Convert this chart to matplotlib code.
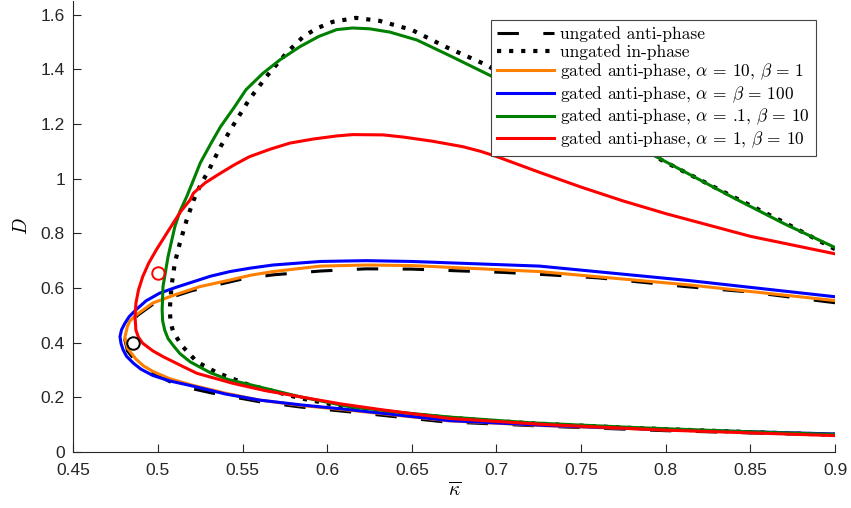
import numpy as np
import matplotlib
matplotlib.use('Agg')
import matplotlib.pyplot as plt

plt.rcParams['mathtext.fontset'] = 'cm'

# curves traced from the upper end at kappa=0.9, round the tip, back to 0.9
anti_x = [0.9, 0.85, 0.812, 0.76, 0.731, 0.704, 0.676, 0.65, 0.623, 0.596, 0.568, 0.55, 0.5347, 0.52, 0.51, 0.497,
          0.488, 0.482, 0.4805, 0.482, 0.487, 0.497, 0.507, 0.52, 0.5325, 0.56, 0.585, 0.613, 0.668, 0.73, 0.8, 0.9]
anti_y = [0.546, 0.585, 0.605, 0.637, 0.648, 0.657, 0.663, 0.669, 0.670, 0.662, 0.648, 0.633, 0.611, 0.59, 0.57, 0.54,
          0.50, 0.455, 0.41, 0.37, 0.33, 0.29, 0.257, 0.232, 0.215, 0.184, 0.164, 0.147, 0.111, 0.094, 0.078, 0.062]

inph_x = [0.9, 0.87, 0.84, 0.80, 0.76, 0.72, 0.694, 0.67, 0.65, 0.631, 0.617, 0.603, 0.594, 0.586, 0.576, 0.565,
          0.554, 0.545, 0.537, 0.530, 0.525, 0.521, 0.517, 0.513, 0.510, 0.508, 0.507, 0.5075, 0.509, 0.514,
          0.523, 0.535, 0.554, 0.584, 0.613, 0.643, 0.672, 0.72, 0.78, 0.84, 0.9]
inph_y = [0.742, 0.84, 0.933, 1.06, 1.19, 1.32, 1.416, 1.482, 1.544, 1.577, 1.588, 1.573, 1.55, 1.52, 1.46, 1.38,
          1.29, 1.20, 1.117, 1.03, 0.975, 0.92, 0.849, 0.765, 0.692, 0.605, 0.52, 0.475, 0.44, 0.39,
          0.33, 0.29, 0.245, 0.197, 0.162, 0.142, 0.125, 0.105, 0.088, 0.075, 0.063]

orange_x = [0.9, 0.814, 0.7255, 0.65, 0.623, 0.596, 0.568, 0.555, 0.5425, 0.5248, 0.51, 0.497, 0.488, 0.4835,
            0.482, 0.4805, 0.4812, 0.482, 0.4845, 0.487, 0.4915, 0.497, 0.507, 0.52, 0.54, 0.56, 0.585, 0.613,
            0.672, 0.73, 0.8, 0.9]
orange_y = [0.554, 0.611, 0.660, 0.682, 0.684, 0.680, 0.660, 0.647, 0.629, 0.605, 0.575, 0.545, 0.505, 0.48,
            0.46, 0.42, 0.40, 0.38, 0.36, 0.34, 0.315, 0.295, 0.268, 0.245, 0.215, 0.19, 0.17, 0.153,
            0.114, 0.096, 0.081, 0.065]

blue_x = [0.9, 0.814, 0.7255, 0.65, 0.623, 0.596, 0.568, 0.555, 0.5425, 0.531, 0.521, 0.511, 0.501, 0.493,
          0.487, 0.483, 0.4805, 0.4785, 0.4776, 0.4782, 0.4795, 0.4815, 0.4855, 0.490, 0.497, 0.507, 0.52,
          0.54, 0.56, 0.585, 0.613, 0.672, 0.73, 0.8, 0.9]
blue_y = [0.568, 0.627, 0.680, 0.697, 0.700, 0.697, 0.684, 0.673, 0.66, 0.643, 0.623, 0.603, 0.581, 0.553,
          0.52, 0.495, 0.471, 0.447, 0.422, 0.397, 0.373, 0.35, 0.325, 0.303, 0.28, 0.26, 0.242,
          0.212, 0.19, 0.172, 0.155, 0.115, 0.097, 0.082, 0.066]

green_x = [0.9, 0.87, 0.84, 0.796, 0.76, 0.73, 0.698, 0.674, 0.653, 0.637, 0.625, 0.615, 0.6056, 0.595, 0.584,
           0.572, 0.562, 0.552, 0.545, 0.537, 0.531, 0.525, 0.521, 0.517, 0.513, 0.510, 0.506, 0.503, 0.5025,
           0.5028, 0.504, 0.506, 0.509, 0.513, 0.519, 0.531, 0.5415, 0.554, 0.584, 0.613, 0.643, 0.672, 0.72,
           0.78, 0.84, 0.9]
green_y = [0.748, 0.835, 0.93, 1.075, 1.19, 1.28, 1.372, 1.445, 1.507, 1.536, 1.548, 1.551, 1.545, 1.52, 1.483,
           1.434, 1.385, 1.325, 1.26, 1.19, 1.125, 1.057, 0.995, 0.934, 0.88, 0.824, 0.715, 0.605, 0.52,
           0.48, 0.446, 0.415, 0.39, 0.36, 0.33, 0.29, 0.265, 0.247, 0.202, 0.166, 0.145, 0.128, 0.107,
           0.09, 0.076, 0.064]

red_x = [0.9, 0.85, 0.8, 0.775, 0.75, 0.725, 0.70, 0.6905, 0.68, 0.662, 0.645, 0.633, 0.615, 0.6055, 0.592, 0.578,
         0.566, 0.554, 0.545, 0.537, 0.528, 0.521, 0.519, 0.5135, 0.509, 0.504, 0.499, 0.4945, 0.491, 0.4885,
         0.487, 0.4865, 0.487, 0.4885, 0.491, 0.497, 0.503, 0.515, 0.523, 0.5445, 0.563, 0.584, 0.608, 0.633,
         0.672, 0.73, 0.8, 0.9]
red_y = [0.725, 0.789, 0.872, 0.918, 0.969, 1.024, 1.081, 1.100, 1.117, 1.137, 1.152, 1.16, 1.161, 1.156, 1.145, 1.13,
         1.107, 1.08, 1.05, 1.02, 0.985, 0.947, 0.922, 0.88, 0.837, 0.788, 0.739, 0.69, 0.641, 0.592,
         0.544, 0.495, 0.446, 0.42, 0.398, 0.37, 0.349, 0.312, 0.288, 0.251, 0.225, 0.202, 0.176, 0.154,
         0.123, 0.1, 0.08, 0.06]

pt_black = (0.485, 0.40)
pt_red = (0.4998, 0.654)

xticks = [0.45, 0.5, 0.55, 0.6, 0.65, 0.7, 0.75, 0.8, 0.85, 0.9]
xtick_labels = ['0.45', '0.5', '0.55', '0.6', '0.65', '0.7', '0.75', '0.8', '0.85', '0.9']
yticks = [0, 0.2, 0.4, 0.6, 0.8, 1.0, 1.2, 1.4, 1.6]
ytick_labels = ['0', '0.2', '0.4', '0.6', '0.8', '1', '1.2', '1.4', '1.6']

fig = plt.figure(figsize=(8.51, 5.08), dpi=100)
ax = fig.add_axes([0.0861, 0.1102, 0.8951, 0.888])

lw = 2.2
ax.plot(anti_x, anti_y, color='k', lw=lw, dashes=(7, 8), label='ungated anti-phase')
ax.plot(inph_x, inph_y, color='k', lw=3.0, dashes=(1.0, 1.9), label='ungated in-phase')
ax.plot(orange_x, orange_y, color='#FF8000', lw=lw, label=r'gated anti-phase, $\alpha$ = 10, $\beta$ = 1')
ax.plot(blue_x, blue_y, color='#0000FF', lw=lw, label=r'gated anti-phase, $\alpha$ = $\beta$ = 100')
ax.plot(green_x, green_y, color='#008000', lw=lw, label=r'gated anti-phase, $\alpha$ = .1, $\beta$ = 10')
ax.plot(red_x, red_y, color='#FF0000', lw=lw, label=r'gated anti-phase, $\alpha$ = 1, $\beta$ = 10')
ax.plot(*pt_black, 'o', mfc='none', mec='k', ms=9, mew=1.4)
ax.plot(*pt_red, 'o', mfc='none', mec='#FF0000', ms=9, mew=1.4)

ax.set_xlim(0.45, 0.9)
ax.set_ylim(0, 1.65)
ax.set_xticks(xticks)
ax.set_xticklabels(xtick_labels)
ax.set_yticks(yticks)
ax.set_yticklabels(ytick_labels)
for s in ['top', 'right']:
    ax.spines[s].set_visible(False)
for s in ['left', 'bottom']:
    ax.spines[s].set_color('#262626')
    ax.spines[s].set_linewidth(0.8)
ax.tick_params(direction='in', length=6, width=0.8, colors='#262626', labelsize=12.5)
ax.tick_params(axis='x', pad=8)
ax.tick_params(axis='y', pad=6)
for lab in ax.get_xticklabels() + ax.get_yticklabels():
    lab.set_family('Liberation Sans')

ax.set_xlabel(r'$\overline{\kappa}$', fontsize=14, labelpad=2)
ax.set_ylabel(r'$D$', fontsize=14, labelpad=7)

leg = ax.legend(loc='upper right', bbox_to_anchor=(0.975, 0.958), fancybox=False, framealpha=1,
                edgecolor='#444444', handlelength=3.3, handletextpad=0.35, labelspacing=0.12,
                borderaxespad=0, borderpad=0.35, prop={'family': 'cmr10', 'size': 12.5})
leg.get_frame().set_linewidth(0.8)

fig.savefig('out.png', dpi=100)
